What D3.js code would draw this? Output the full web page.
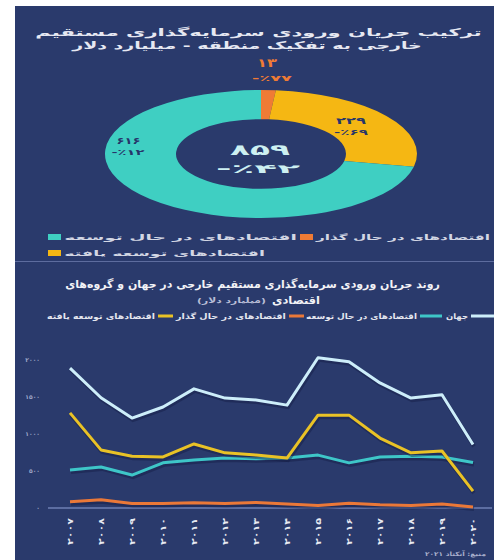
<!DOCTYPE html>
<html>
<head>
<meta charset="utf-8">
<script src="https://cdnjs.cloudflare.com/ajax/libs/d3/7.8.5/d3.min.js"></script>
<style>
body { margin: 0; background: #fff; }
text { font-family: "DejaVu Sans", sans-serif; font-weight: bold; }
</style>
</head>
<body>
<script>
// FDI 2020 by region (billion dollars)
var regionNames = ["اقتصادهای در حال گذار", "اقتصادهای توسعه یافته", "اقتصادهای در حال توسعه"];
var regionValues = [13, 229, 616];
var regionLabels = ["۱۳", "۲۲۹", "۶۱۶"];
var regionChange = ["-٪۷۷", "-٪۶۹", "-٪۱۲"];
var totalLabel = "۸۵۹";
var totalChange = "-٪۴۲";
var regionColors = ["#ef7b35", "#f5b713", "#3fcfc2"];

// trend 2007-2020
var years = [2007, 2008, 2009, 2010, 2011, 2012, 2013, 2014, 2015, 2016, 2017, 2018, 2019, 2020];
var yearLabels = ["۲۰۰۷", "۲۰۰۸", "۲۰۰۹", "۲۰۱۰", "۲۰۱۱", "۲۰۱۲", "۲۰۱۳", "۲۰۱۴", "۲۰۱۵", "۲۰۱۶", "۲۰۱۷", "۲۰۱۸", "۲۰۱۹", "۲۰۲۰"];
var world = [1890, 1490, 1215, 1365, 1610, 1485, 1460, 1390, 2030, 1975, 1690, 1485, 1530, 859];
var developed = [1285, 785, 700, 690, 865, 745, 715, 675, 1255, 1255, 945, 745, 770, 229];
var developing = [515, 555, 445, 610, 650, 675, 665, 675, 715, 610, 690, 700, 690, 616];
var transition = [85, 110, 60, 60, 70, 60, 75, 55, 35, 65, 45, 35, 55, 13];
var yTicks = [0, 500, 1000, 1500, 2000];
var yTickLabels = ["۰", "۵۰۰", "۱۰۰۰", "۱۵۰۰", "۲۰۰۰"];
var seriesNames = ["جهان", "اقتصادهای در حال توسعه", "اقتصادهای در حال گذار", "اقتصادهای توسعه یافته"];
var seriesColors = ["#cdeefa", "#3ec6c8", "#ea7838", "#e9c226"];

var svg = d3.select("body").append("svg").attr("width", 502).attr("height", 560);
svg.append("rect").attr("x", 15).attr("y", 6).attr("width", 479).attr("height", 554).attr("fill", "#2a3a6c");

// text stretched to fit between x1 and x2
function label(g, x1, x2, y, str, size, color) {
  var t = g.append("text").attr("font-size", size).attr("fill", color)
    .attr("text-anchor", "middle").text(str);
  var sx = (x2 - x1) / t.node().getComputedTextLength();
  t.attr("transform", "translate(" + (x1 + x2) / 2 + "," + y + ") scale(" + sx + ",1)");
  return t;
}

// titles
label(svg, 35, 482, 36, "ترکیب جریان ورودی سرمایه‌گذاری مستقیم", 10.5, "#e6e8f2");
label(svg, 72, 422, 49, "خارجی به تفکیک منطقه - میلیارد دلار", 10.5, "#e6e8f2");

// donut
var cx = 261, cy = 154, ry = 0.41;
var pie = d3.pie().sort(null).value(function(d) { return d; });
var arc = d3.arc().innerRadius(85).outerRadius(156);
var donut = svg.append("g").attr("transform", "translate(" + cx + "," + cy + ") scale(1," + ry + ")");
var slices = pie(regionValues);
donut.selectAll("path").data(slices).enter().append("path")
  .attr("d", arc)
  .attr("fill", function(d, i) { return regionColors[i]; });

// slice labels
label(svg, 257, 277, 67, regionLabels[0], 12, regionColors[0]);
label(svg, 252, 292, 81, regionChange[0], 8, regionColors[0]);
var labelArc = d3.arc().innerRadius(112).outerRadius(112);
var c1 = labelArc.centroid(slices[1]);
label(svg, cx + c1[0] - 15, cx + c1[0] + 15, cy + c1[1] * ry - 3, regionLabels[1], 9, "#27356a");
label(svg, cx + c1[0] - 17, cx + c1[0] + 17, cy + c1[1] * ry + 8, regionChange[1], 7.5, "#27356a");
var tealArc = d3.arc().innerRadius(134).outerRadius(134);
var c2 = tealArc.centroid({startAngle: 4.86, endAngle: 4.86});
label(svg, cx + c2[0] - 12, cx + c2[0] + 12, cy + c2[1] * ry - 2, regionLabels[2], 9, "#27356a");
label(svg, cx + c2[0] - 17, cx + c2[0] + 16, cy + c2[1] * ry + 9, regionChange[2], 7.5, "#27356a");
label(svg, 230, 290, 155, totalLabel, 15, "#cdf0f2");
label(svg, 216, 300, 173, totalChange, 12, "#cdf0f2");

// donut legend
var legRows = [
  {i: 2, x: 48, y: 237, t2: 297},
  {i: 0, x: 300, y: 237, t2: 490},
  {i: 1, x: 48, y: 253, t2: 265}
];
legRows.forEach(function(r) {
  svg.append("rect").attr("x", r.x).attr("y", r.y - 3).attr("width", 13).attr("height", 6)
    .attr("fill", regionColors[r.i]);
  label(svg, r.x + 16, r.t2, r.y + 3, regionNames[r.i], 7.5, "#d3d7e4");
});

svg.append("line").attr("x1", 15).attr("x2", 494).attr("y1", 261.5).attr("y2", 261.5)
  .attr("stroke", "#5d6c9e").attr("stroke-width", 1);

// trend title
label(svg, 65, 440, 288, "روند جریان ورودی سرمایه‌گذاری مستقیم خارجی در جهان و گروه‌های", 11, "#f2f2f6");
label(svg, 272, 320, 304, "اقتصادی", 11, "#f2f2f6");
label(svg, 197, 266, 303, "(میلیارد دلار)", 7.5, "#b8bdd6");

// trend legend
var legItems = [
  {s: 0, t1: 446, t2: 468, l1: 471, l2: 494},
  {s: 1, t1: 306, t2: 417, l1: 420, l2: 442},
  {s: 2, t1: 176, t2: 286, l1: 289, l2: 304},
  {s: 3, t1: 47, t2: 155, l1: 158, l2: 173}
];
legItems.forEach(function(d) {
  svg.append("line").attr("x1", d.l1).attr("x2", d.l2).attr("y1", 316).attr("y2", 316)
    .attr("stroke", seriesColors[d.s]).attr("stroke-width", 3);
  label(svg, d.t1, d.t2, 319, seriesNames[d.s], 7.5, "#e4e6ef");
});

// scales
var x = d3.scalePoint().domain(years).range([70, 473]);
var y = d3.scaleLinear().domain([0, 2000]).range([508, 360]);

svg.selectAll(".ytick").data(yTicks).enter().append("text")
  .attr("class", "ytick")
  .attr("x", 40).attr("y", function(d) { return y(d) + 2; })
  .attr("text-anchor", "end").attr("font-size", 6).attr("fill", "#9ea6c8")
  .text(function(d, i) { return yTickLabels[i]; });

svg.append("line").attr("x1", 48).attr("x2", 492).attr("y1", y(0)).attr("y2", y(0))
  .attr("stroke", "#6e7fb3").attr("stroke-width", 1.5);

years.forEach(function(yr, i) {
  var t = svg.append("text").attr("font-size", 8).attr("fill", "#e8eaf2")
    .attr("text-anchor", "end").text(yearLabels[i]);
  var sx = 27 / t.node().getComputedTextLength();
  t.attr("transform", "translate(" + (x(yr) + 3) + ",518) rotate(-90) scale(" + sx + ",1)");
});

var line = d3.line()
  .x(function(d, i) { return x(years[i]); })
  .y(function(d) { return y(d); });

var series = [transition, developing, developed, world];
var sColors = [seriesColors[2], seriesColors[1], seriesColors[3], seriesColors[0]];
series.forEach(function(s, k) {
  svg.append("path").attr("d", line(s)).attr("fill", "none")
    .attr("stroke", "#141d45").attr("stroke-opacity", 0.45).attr("stroke-width", 4)
    .attr("transform", "translate(1,2)");
  svg.append("path").attr("d", line(s)).attr("fill", "none")
    .attr("stroke", sColors[k]).attr("stroke-width", 3)
    .attr("stroke-linejoin", "round");
});

// source
label(svg, 425, 486, 556, "منبع: آنکتاد ۲۰۲۱", 6, "#a9b0cc");
</script>
</body>
</html>
